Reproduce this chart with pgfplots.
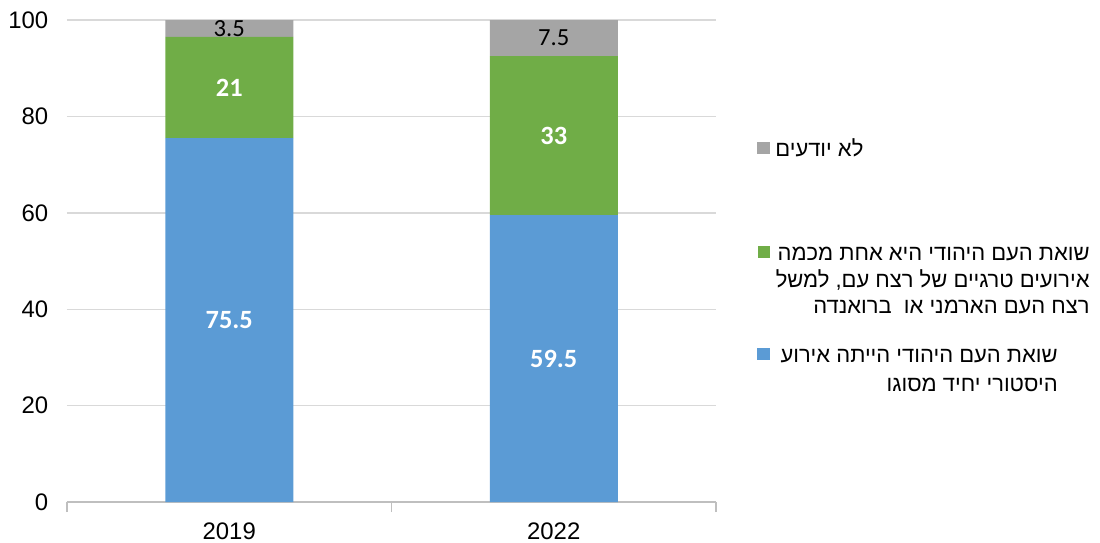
\documentclass[border=0pt]{standalone}
\usepackage{pgfplots}
\usepackage{pgfplotstable}
\pgfplotsset{compat=1.18}
\usepackage{fontspec}
\setmainfont{Liberation Sans}
\newfontfamily\hebfont[Script=Hebrew]{Liberation Sans}
\newfontfamily\lblfont{Carlito}
\TeXXeTstate=1
\definecolor{cblue}{HTML}{5B9BD5}
\definecolor{cgreen}{HTML}{70AD47}
\definecolor{cgray}{HTML}{A5A5A5}
\definecolor{gridc}{HTML}{D9D9D9}
\definecolor{axisc}{HTML}{BFBFBF}

\pgfplotstableread{
x blue green gray
0 75.5 21 3.5
1 59.5 33 7.5
}\shares

\newcommand\tfont{\fontsize{13.6}{16}\selectfont}
\newcommand\lgfont{\fontsize{12.5}{15}\selectfont}

\begin{document}
\begin{tikzpicture}
\path[use as bounding box] (0,0) rectangle (22cm,10.84cm);
\begin{axis}[at={(1.34cm,0.8cm)}, anchor=south west, scale only axis,
  width=12.98cm, height=9.64cm, ybar stacked, bar width=2.56cm,
  xmin=-0.5, xmax=1.5, ymin=0, ymax=100,
  xtick={0,1}, xticklabels={2019,2022}, major x tick style={draw=none},
  minor xtick={-0.5,0.5,1.5}, minor x tick style={draw=axisc, line width=0.8pt},
  minor tick length=0.2cm,
  ytick={0,20,...,100}, ymajorgrids, grid style={gridc, line width=0.8pt},
  y tick style={draw=none},
  axis x line*=bottom, axis y line*=left, y axis line style={draw=none},
  x axis line style={axisc, line width=0.8pt, -},
  tick align=outside, major tick length=0pt,
  tick label style={font=\tfont}, /pgf/number format/assume math mode=true,
  yticklabel style={xshift=-0.25cm}, xticklabel style={yshift=-0.29cm},
  nodes near coords={\pgfmathprintnumber{\segval}},
  every node near coord/.append style={anchor=center},
]
\addplot[fill=cblue, draw=none, visualization depends on={\thisrow{blue}\as\segval},
  every node near coord/.append style={text=white, font=\lblfont\bfseries\fontsize{15}{18}\selectfont}]
  table[x=x, y=blue] \shares;
\addplot[fill=cgreen, draw=none, visualization depends on={\thisrow{green}\as\segval},
  every node near coord/.append style={text=white, font=\lblfont\bfseries\fontsize{15}{18}\selectfont}]
  table[x=x, y=green] \shares;
\addplot[fill=cgray, draw=none, visualization depends on={\thisrow{gray}\as\segval},
  every node near coord/.append style={text=black, font=\lblfont\fontsize{14}{17}\selectfont}]
  table[x=x, y=gray] \shares;
\end{axis}
% legend
\fill[cgray] (15.145cm,7.755cm) rectangle ++(0.25cm,0.25cm);
\node[anchor=base west, inner sep=0pt, font=\hebfont\lgfont] at (15.5cm,7.72cm) {\beginR לא יודעים\endR};
\fill[cgreen] (15.155cm,5.675cm) rectangle ++(0.25cm,0.25cm);
\node[anchor=base east, inner sep=0pt, font=\hebfont\lgfont] at (21.8cm,5.64cm) {\beginR שואת העם היהודי היא אחת מכמה\endR};
\node[anchor=base east, inner sep=0pt, font=\hebfont\lgfont] at (21.8cm,5.10cm) {\beginR אירועים טרגיים של רצח עם, למשל\endR};
\node[anchor=base east, inner sep=0pt, font=\hebfont\lgfont] at (21.8cm,4.58cm) {\beginR רצח העם הארמני או \ ברואנדה\endR};
\fill[cblue] (15.145cm,3.635cm) rectangle ++(0.25cm,0.25cm);
\node[anchor=base east, inner sep=0pt, font=\hebfont\lgfont] at (21.16cm,3.6cm) {\beginR שואת העם היהודי הייתה אירוע\endR};
\node[anchor=base east, inner sep=0pt, font=\hebfont\lgfont] at (21.16cm,3.02cm) {\beginR היסטורי יחיד מסוגו\endR};
\end{tikzpicture}
\end{document}
